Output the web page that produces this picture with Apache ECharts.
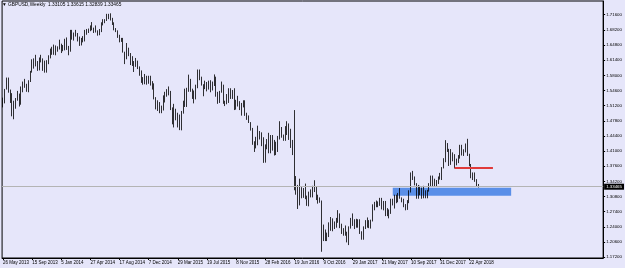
<!DOCTYPE html>
<html><head><meta charset="utf-8">
<script src="https://cdn.jsdelivr.net/npm/echarts@6/dist/echarts.min.js"></script>
<style>html,body{margin:0;padding:0;background:#E6E6FA;}#c{width:625px;height:268px;}</style>
</head><body><div id="c"></div>
<script>
const symbolName = 'GBPUSD,Weekly';
const firstWeek = [2013, 4, 26];   // Sunday 26 May 2013
const totalSlots = 330;            // bars + empty right shift
const opens = [1.5100,1.5200,1.5485,1.5690,1.5420,1.5210,1.4890,1.5140,1.5270,1.5380,1.5350,1.5520,1.5640,1.5560,1.5500,1.5660,1.5870,1.6020,1.6170,1.6010,1.5990,1.6170,1.6170,1.5940,1.5970,1.6130,1.6220,1.6370,1.6390,1.6300,1.6360,1.6410,1.6420,1.6470,1.6420,1.6580,1.6420,1.6430,1.6740,1.6660,1.6750,1.6720,1.6630,1.6480,1.6610,1.6590,1.6740,1.6810,1.6800,1.6880,1.6860,1.6820,1.6800,1.6720,1.6800,1.6970,1.7010,1.7030,1.7150,1.7110,1.7070,1.6980,1.6840,1.6790,1.6700,1.6570,1.6590,1.6330,1.6250,1.6300,1.6240,1.6040,1.6080,1.6080,1.6090,1.5950,1.5860,1.5690,1.5660,1.5640,1.5620,1.5710,1.5660,1.5550,1.5270,1.5150,1.5160,1.4960,1.5040,1.5230,1.5390,1.5400,1.5430,1.5030,1.4730,1.4880,1.4870,1.4890,1.4630,1.4970,1.5190,1.5150,1.5450,1.5700,1.5490,1.5290,1.5330,1.5570,1.5880,1.5750,1.5590,1.5510,1.5600,1.5510,1.5610,1.5470,1.5640,1.5700,1.5400,1.5190,1.5430,1.5530,1.5190,1.5220,1.5310,1.5450,1.5310,1.5430,1.5040,1.5220,1.5120,1.5040,1.5120,1.5220,1.4900,1.4880,1.4740,1.4580,1.4250,1.4260,1.4250,1.4500,1.4490,1.4400,1.3880,1.4230,1.4360,1.4400,1.4120,1.4240,1.4130,1.4200,1.4410,1.4610,1.4410,1.4360,1.4500,1.4640,1.4520,1.4180,1.4360,1.3470,1.3290,1.2950,1.3200,1.3100,1.3240,1.3050,1.2940,1.3070,1.3160,1.3310,1.3260,1.3050,1.2960,1.2980,1.2430,1.2190,1.2210,1.2200,1.2490,1.2590,1.2380,1.2480,1.2580,1.2590,1.2460,1.2270,1.2340,1.2280,1.2180,1.2370,1.2560,1.2480,1.2490,1.2410,1.2550,1.2290,1.2180,1.2400,1.2520,1.2540,1.2390,1.2540,1.2810,1.2950,1.2960,1.2880,1.3030,1.2800,1.2890,1.2740,1.2780,1.2720,1.3020,1.2890,1.3100,1.2990,1.3130,1.3040,1.3010,1.2880,1.2890,1.2990,1.3200,1.3610,1.3500,1.3370,1.3060,1.3270,1.3190,1.3130,1.3070,1.3190,1.3220,1.3320,1.3480,1.3380,1.3340,1.3380,1.3500,1.3570,1.3720,1.3860,1.4150,1.4120,1.3820,1.4010,1.3960,1.3800,1.3850,1.3950,1.4140,1.4010,1.4080,1.4240,1.4010,1.3780,1.3530,1.3550,1.3420,1.33105];
const highs = [1.5300,1.5495,1.5750,1.5750,1.5480,1.5400,1.5230,1.5290,1.5450,1.5390,1.5550,1.5660,1.5720,1.5610,1.5690,1.5900,1.6160,1.6180,1.6260,1.6120,1.6200,1.6260,1.6180,1.6130,1.6140,1.6250,1.6400,1.6440,1.6490,1.6470,1.6450,1.6600,1.6510,1.6480,1.6620,1.6650,1.6460,1.6820,1.6820,1.6760,1.6820,1.6750,1.6670,1.6640,1.6680,1.6820,1.6840,1.6850,1.6920,1.6995,1.6870,1.6920,1.6810,1.6840,1.6990,1.7060,1.7060,1.7180,1.7180,1.7192,1.7090,1.6990,1.6860,1.6810,1.6710,1.6640,1.6640,1.6330,1.6525,1.6420,1.6300,1.6230,1.6120,1.6190,1.6130,1.6000,1.5910,1.5760,1.5830,1.5790,1.5790,1.5790,1.5670,1.5620,1.5310,1.5240,1.5200,1.5120,1.5350,1.5430,1.5490,1.5550,1.5450,1.5080,1.5160,1.5050,1.4960,1.4920,1.5000,1.5230,1.5500,1.5520,1.5815,1.5720,1.5500,1.5460,1.5590,1.5930,1.5930,1.5770,1.5600,1.5680,1.5650,1.5680,1.5690,1.5660,1.5820,1.5770,1.5430,1.5450,1.5660,1.5590,1.5230,1.5380,1.5510,1.5510,1.5470,1.5510,1.5250,1.5340,1.5220,1.5180,1.5240,1.5240,1.4960,1.4900,1.4750,1.4620,1.4320,1.4420,1.4670,1.4550,1.4520,1.4410,1.4250,1.4370,1.4510,1.4460,1.4460,1.4350,1.4310,1.4440,1.4770,1.4640,1.4470,1.4660,1.4770,1.4720,1.4600,1.4350,1.5020,1.3540,1.3340,1.3480,1.3290,1.3270,1.3370,1.3100,1.3190,1.3240,1.3320,1.3445,1.3300,1.3120,1.3060,1.2990,1.2450,1.2340,1.2270,1.2500,1.2620,1.2590,1.2520,1.2600,1.2775,1.2700,1.2470,1.2370,1.2430,1.2290,1.2410,1.2600,1.2700,1.2570,1.2580,1.2570,1.2570,1.2300,1.2410,1.2550,1.2610,1.2550,1.2560,1.2905,1.2960,1.2990,1.2970,1.3050,1.3050,1.2980,1.2980,1.2820,1.2790,1.3030,1.3030,1.3120,1.3120,1.3160,1.3270,1.3060,1.3030,1.2910,1.3000,1.3220,1.3620,1.3655,1.3530,1.3380,1.3340,1.3320,1.3280,1.3320,1.3220,1.3230,1.3380,1.3550,1.3550,1.3480,1.3450,1.3530,1.3610,1.3740,1.3940,1.4345,1.4280,1.4150,1.4145,1.4070,1.4030,1.3930,1.4010,1.4240,1.4240,1.4140,1.4270,1.4375,1.4040,1.3810,1.3620,1.3620,1.3470,1.33615];
const lows = [1.5080,1.5170,1.5480,1.5410,1.5180,1.4880,1.4814,1.5050,1.5230,1.5100,1.5140,1.5420,1.5520,1.5430,1.5420,1.5650,1.5860,1.5950,1.6000,1.5900,1.5910,1.6090,1.5900,1.5860,1.5860,1.6050,1.6180,1.6260,1.6260,1.6250,1.6330,1.6380,1.6300,1.6340,1.6360,1.6370,1.6250,1.6330,1.6600,1.6580,1.6670,1.6560,1.6460,1.6470,1.6540,1.6560,1.6710,1.6750,1.6790,1.6810,1.6750,1.6760,1.6690,1.6700,1.6770,1.6920,1.6970,1.7020,1.7060,1.7030,1.6930,1.6810,1.6770,1.6640,1.6540,1.6550,1.6310,1.6052,1.6160,1.6230,1.6030,1.6010,1.5875,1.5990,1.5940,1.5790,1.5630,1.5590,1.5600,1.5590,1.5610,1.5570,1.5480,1.5260,1.5035,1.5000,1.4950,1.4950,1.5010,1.5190,1.5320,1.5350,1.5020,1.4700,1.4630,1.4790,1.4630,1.4570,1.4565,1.4940,1.5090,1.5090,1.5430,1.5430,1.5270,1.5170,1.5260,1.5510,1.5690,1.5570,1.5330,1.5490,1.5440,1.5480,1.5420,1.5460,1.5560,1.5320,1.5160,1.5180,1.5410,1.5160,1.5110,1.5150,1.5180,1.5270,1.5270,1.5020,1.5030,1.5100,1.5020,1.4895,1.5080,1.4890,1.4800,1.4730,1.4560,1.4240,1.4080,1.4160,1.4230,1.4360,1.4210,1.3835,1.3840,1.4140,1.4050,1.4050,1.4110,1.4000,1.4010,1.4080,1.4360,1.4400,1.4330,1.4330,1.4460,1.4350,1.4170,1.4010,1.3220,1.3120,1.2800,1.2880,1.3040,1.3050,1.3020,1.2870,1.2860,1.3060,1.3060,1.3180,1.3000,1.2920,1.2940,1.1840,1.2080,1.2080,1.2080,1.2170,1.2310,1.2300,1.2350,1.2380,1.2490,1.2370,1.2240,1.2200,1.2200,1.2050,1.1990,1.2360,1.2420,1.2350,1.2380,1.2380,1.2240,1.2110,1.2110,1.2350,1.2380,1.2370,1.2360,1.2520,1.2770,1.2840,1.2840,1.2870,1.2790,1.2770,1.2640,1.2640,1.2590,1.2690,1.2880,1.2810,1.2930,1.2950,1.3030,1.2950,1.2840,1.2770,1.2780,1.2930,1.3170,1.3450,1.3330,1.3030,1.3030,1.3110,1.3030,1.3040,1.3040,1.3040,1.3190,1.3300,1.3300,1.3300,1.3300,1.3360,1.3460,1.3450,1.3710,1.3850,1.4080,1.3765,1.3790,1.3870,1.3710,1.3780,1.3830,1.3930,1.4000,1.3990,1.4070,1.3990,1.3760,1.3490,1.3450,1.3410,1.3300,1.32839];
const closes = [1.5200,1.5485,1.5690,1.5420,1.5210,1.4890,1.5140,1.5270,1.5380,1.5350,1.5520,1.5640,1.5560,1.5500,1.5660,1.5870,1.6020,1.6170,1.6010,1.5990,1.6170,1.6170,1.5940,1.5970,1.6130,1.6220,1.6370,1.6390,1.6300,1.6360,1.6410,1.6420,1.6470,1.6420,1.6580,1.6420,1.6430,1.6740,1.6660,1.6750,1.6720,1.6630,1.6480,1.6610,1.6590,1.6740,1.6810,1.6800,1.6880,1.6860,1.6820,1.6800,1.6720,1.6800,1.6970,1.7010,1.7030,1.7150,1.7110,1.7070,1.6980,1.6840,1.6790,1.6700,1.6570,1.6590,1.6330,1.6250,1.6300,1.6240,1.6040,1.6080,1.6080,1.6090,1.5950,1.5860,1.5690,1.5660,1.5640,1.5620,1.5710,1.5660,1.5550,1.5270,1.5150,1.5160,1.4960,1.5040,1.5230,1.5390,1.5400,1.5430,1.5030,1.4730,1.4880,1.4870,1.4890,1.4630,1.4970,1.5190,1.5150,1.5450,1.5700,1.5490,1.5290,1.5330,1.5570,1.5880,1.5750,1.5590,1.5510,1.5600,1.5510,1.5610,1.5470,1.5640,1.5700,1.5400,1.5190,1.5430,1.5530,1.5190,1.5220,1.5310,1.5450,1.5310,1.5430,1.5040,1.5220,1.5120,1.5040,1.5120,1.5220,1.4900,1.4880,1.4740,1.4580,1.4250,1.4260,1.4250,1.4500,1.4490,1.4400,1.3880,1.4230,1.4360,1.4400,1.4120,1.4240,1.4130,1.4200,1.4410,1.4610,1.4410,1.4360,1.4500,1.4640,1.4520,1.4180,1.4360,1.3680,1.3290,1.2950,1.3200,1.3100,1.3240,1.3050,1.2940,1.3070,1.3160,1.3310,1.3260,1.3050,1.2960,1.2980,1.2430,1.2190,1.2210,1.2200,1.2490,1.2590,1.2380,1.2480,1.2580,1.2590,1.2460,1.2270,1.2340,1.2280,1.2180,1.2370,1.2560,1.2480,1.2490,1.2410,1.2550,1.2290,1.2180,1.2400,1.2520,1.2540,1.2390,1.2540,1.2810,1.2950,1.2960,1.2880,1.3030,1.2800,1.2890,1.2740,1.2780,1.2720,1.3020,1.2890,1.3100,1.2990,1.3130,1.3040,1.3010,1.2880,1.2890,1.2990,1.3200,1.3610,1.3500,1.3370,1.3060,1.3270,1.3190,1.3130,1.3070,1.3190,1.3220,1.3320,1.3480,1.3380,1.3340,1.3380,1.3500,1.3570,1.3720,1.3860,1.4150,1.4120,1.3820,1.4010,1.3960,1.3800,1.3850,1.3950,1.4140,1.4010,1.4080,1.4240,1.4010,1.3780,1.3530,1.3550,1.3420,1.3310,1.33465];
const priceTicks = [1.172,1.206,1.240,1.274,1.308,1.342,1.376,1.410,1.444,1.478,1.512,1.546,1.580,1.614,1.648,1.682,1.716];
const supportZone = {fromBar: 214, toBar: 279, low: 1.3098, high: 1.3277};
const resistanceLine = {fromBar: 248, toBar: 269, price: 1.3735};

const MONTHS = ['Jan','Feb','Mar','Apr','May','Jun','Jul','Aug','Sep','Oct','Nov','Dec'];
const categories = [];
for (let i = 0; i < totalSlots; i++) {
  const d = new Date(Date.UTC(firstWeek[0], firstWeek[1], firstWeek[2] + 7 * i));
  categories.push(d.getUTCDate() + ' ' + MONTHS[d.getUTCMonth()] + ' ' + d.getUTCFullYear());
}
const candles = opens.map((o, i) => [o, closes[i], lows[i], highs[i]]);
const lastClose = closes[closes.length - 1];
const n = opens.length;
const header = '\u25BC ' + symbolName + '  ' + [opens[n-1], highs[n-1], lows[n-1], closes[n-1]].map(v => v.toFixed(5)).join(' ');
const showIdx = (i) => i % 16 === 0 && i < n;
const FONT = 'Liberation Sans';

const chart = echarts.init(document.getElementById('c'), null, {renderer: 'canvas'});
chart.setOption({
  animation: false,
  backgroundColor: '#E6E6FA',
  grid: {left: 1, top: 1, width: 604, height: 257, show: true, borderColor: '#000', borderWidth: 1, backgroundColor: '#E6E6FA'},
  graphic: [{type: 'text', left: 2, top: 2, style: {text: header, fontSize: 4.8, fontFamily: FONT, fill: '#000'}}],
  xAxis: {
    type: 'category', data: categories, boundaryGap: true,
    axisLine: {show: true, lineStyle: {color: '#000', width: 1}},
    axisTick: {show: true, alignWithLabel: true, interval: showIdx, length: 2, lineStyle: {color: '#000'}},
    axisLabel: {interval: showIdx, align: 'left', fontSize: 4.5, fontFamily: FONT, color: '#000', margin: 2.5},
    splitLine: {show: false}
  },
  yAxis: {
    type: 'value', position: 'right', min: 1.1700, max: 1.7468, scale: true,
    axisLine: {show: true, lineStyle: {color: '#000'}},
    axisTick: {show: true, length: 2, customValues: priceTicks, lineStyle: {color: '#000'}},
    axisLabel: {customValues: priceTicks, formatter: v => v.toFixed(5), fontSize: 4.4, fontFamily: FONT, color: '#000', margin: 3},
    splitLine: {show: false}
  },
  series: [{
    type: 'candlestick', data: candles, barWidth: 1.2, z: 3,
    itemStyle: {color: '#ffffff', color0: '#000000', borderColor: '#000000', borderColor0: '#000000', borderWidth: 0.8},
    markArea: {
      silent: true, z: 1,
      itemStyle: {color: '#5a8fe8', opacity: 1},
      data: [[{coord: [categories[supportZone.fromBar], supportZone.high]}, {coord: [categories[supportZone.toBar], supportZone.low]}]]
    },
    markLine: {
      silent: true, symbol: 'none', animation: false,
      data: [
        {yAxis: lastClose, lineStyle: {color: '#b4b4b4', width: 1, type: 'solid'},
         label: {show: true, position: 'end', distance: 1, formatter: lastClose.toFixed(5), color: '#fff', backgroundColor: '#000', fontSize: 4.4, fontFamily: FONT, padding: [1, 2]}},
        [{coord: [categories[resistanceLine.fromBar], resistanceLine.price], lineStyle: {color: '#e03a3a', width: 2, type: 'solid'}, label: {show: false}},
         {coord: [categories[resistanceLine.toBar], resistanceLine.price]}]
      ]
    }
  }]
});
</script></body></html>
